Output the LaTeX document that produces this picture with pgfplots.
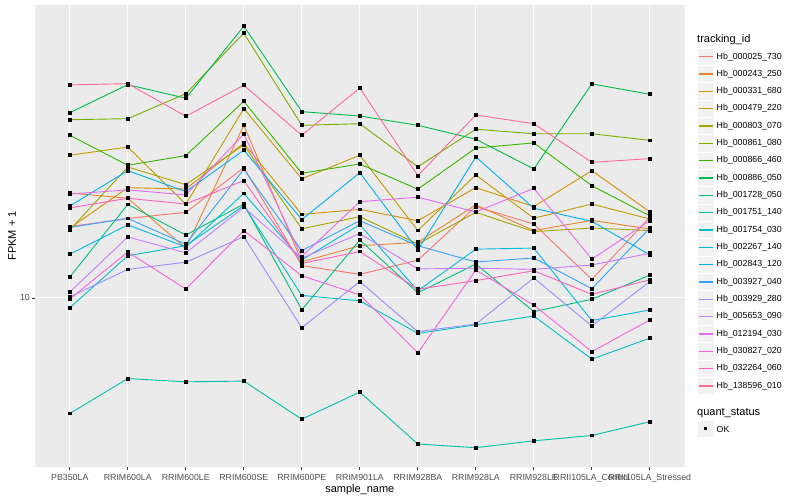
\documentclass[border=0pt]{standalone}
\usepackage{pgfplots}
\pgfplotsset{compat=1.18}
\usepackage{pgfplotstable}
\usepackage{fontspec}
\setmainfont{Liberation Sans}

% ggplot hue palette, 20 levels
\definecolor{c1}{HTML}{F8766D}
\definecolor{c2}{HTML}{EA8331}
\definecolor{c3}{HTML}{D89000}
\definecolor{c4}{HTML}{C09B00}
\definecolor{c5}{HTML}{A3A500}
\definecolor{c6}{HTML}{7CAE00}
\definecolor{c7}{HTML}{39B600}
\definecolor{c8}{HTML}{00BB4E}
\definecolor{c9}{HTML}{00BF7D}
\definecolor{c10}{HTML}{00C1A3}
\definecolor{c11}{HTML}{00BFC4}
\definecolor{c12}{HTML}{00BAE0}
\definecolor{c13}{HTML}{00B0F6}
\definecolor{c14}{HTML}{35A2FF}
\definecolor{c15}{HTML}{9590FF}
\definecolor{c16}{HTML}{C77CFF}
\definecolor{c17}{HTML}{E76BF3}
\definecolor{c18}{HTML}{FA62DB}
\definecolor{c19}{HTML}{FF62BC}
\definecolor{c20}{HTML}{FF6C91}
\definecolor{panel}{HTML}{EBEBEB}
\definecolor{keybg}{HTML}{F2F2F2}
\definecolor{grey30}{HTML}{4D4D4D}
\definecolor{grey20}{HTML}{333333}

\pgfplotscreateplotcyclelist{gg}{
{color=c1,mark=none},{color=c2,mark=none},{color=c3,mark=none},{color=c4,mark=none},
{color=c5,mark=none},{color=c6,mark=none},{color=c7,mark=none},{color=c8,mark=none},
{color=c9,mark=none},{color=c10,mark=none},{color=c11,mark=none},{color=c12,mark=none},
{color=c13,mark=none},{color=c14,mark=none},{color=c15,mark=none},{color=c16,mark=none},
{color=c17,mark=none},{color=c18,mark=none},{color=c19,mark=none},{color=c20,mark=none}}

% FPKM + 1, one column per tracking_id, one row per sample
\pgfplotstableread{
x  c1    c2    c3    c4    c5    c6    c7    c8    c9    c10  c11   c12   c13   c14   c15   c16   c17   c18   c19   c20
0  13.15 14.96 13.07 17.29 12.98 19.82 18.67 20.36 10.84 6.42 9.63  11.83 14.23 13.11 10.04 10.23 14.90 9.96  14.13 22.65
1  13.57 14.66 15.27 17.85 16.53 19.90 16.64 22.67 14.32 7.34 11.76 13.24 16.30 13.57 11.16 12.64 15.14 11.93 14.66 22.76
2  13.89 12.10 15.19 14.33 15.45 21.90 17.27 21.52 12.73 7.25 12.22 12.16 15.04 12.29 11.47 11.89 14.85 10.35 14.34 20.08
3  16.49 19.40 18.11 20.68 17.99 27.62 21.27 28.37 14.34 7.27 14.25 14.94 17.63 16.39 12.65 14.16 18.76 12.95 15.69 22.62
4  11.32 11.49 13.78 15.80 13.04 19.40 16.14 20.44 9.56  6.28 10.10 11.57 13.51 11.99 8.92  11.65 11.72 10.89 11.42 18.67
5  10.95 12.22 14.05 17.29 13.66 19.52 16.72 20.10 12.49 6.97 9.89  13.25 16.17 13.45 10.65 12.80 14.47 10.12 11.95 22.39
6  11.56 12.38 13.45 12.96 12.30 16.55 15.18 19.40 10.20 5.71 8.73  10.28 12.02 12.22 8.79  11.18 14.72 8.10  10.34 15.99
7  14.20 14.29 15.27 16.03 13.89 19.11 17.78 18.39 11.39 5.63 9.02  12.06 17.18 11.48 9.05  11.21 13.91 11.13 10.69 20.18
8  13.28 12.95 14.20 13.58 12.90 18.78 18.13 16.41 9.49  5.78 9.33  12.11 14.11 11.66 10.80 11.16 15.23 9.73  11.10 19.52
9  10.74 13.47 16.30 14.34 13.08 18.78 15.39 22.74 9.95  5.90 7.91  9.17  13.42 10.36 8.98  11.35 11.61 8.14  10.14 16.83
10 13.63 13.03 13.92 13.54 12.95 18.31 13.70 21.85 10.92 6.22 8.57  9.55  11.80 13.08 10.65 11.87 13.45 9.19  10.72 17.07
}\fpkm

\begin{document}
\begin{tikzpicture}
\begin{axis}[
    at={(35pt,33pt)}, anchor=south west,
    scale only axis, width=649.6pt, height=462pt,
    xmin=-0.6, xmax=10.6,
    ymode=log, ymin=5.228, ymax=30.78,
    xtick={0,...,10},
    xticklabels={PB350LA,RRIM600LA,RRIM600LE,RRIM600SE,RRIM600PE,RRIM901LA,RRIM928BA,RRIM928LA,RRIM928LE,RRII105LA\_Control,RRII105LA\_Stressed},
    ytick={10}, yticklabels={10},
    yminorticks=false, xminorticks=false,
    /pgf/number format/assume math mode=true,
    axis background/.style={fill=panel},
    axis line style={draw=none},
    grid=major,
    major grid style={white, line width=1pt},
    tick align=outside, tick pos=left,
    major tick length=2.75pt,
    every tick/.style={grey20, line width=0.8pt},
    xticklabel style={font=\fontsize{8.8}{10}\selectfont, text=grey30, inner sep=0pt, anchor=north, yshift=-4pt},
    yticklabel style={font=\fontsize{8.8}{10}\selectfont, text=grey30, inner sep=0pt, anchor=east, xshift=-2.2pt},
    xlabel={sample\_name},
    ylabel={FPKM + 1},
    xlabel style={font=\fontsize{11}{13}\selectfont, at={(axis description cs:0.5,-0.0495)}, anchor=center},
    ylabel style={font=\fontsize{11}{13}\selectfont, at={(axis description cs:-0.0354,0.5)}, anchor=center},
    cycle list name=gg,
    every axis plot/.append style={line width=0.9pt},
]
\pgfplotsinvokeforeach{1,...,20}{
    \addplot table[x=x, y=c#1] {\fpkm};
}
\pgfplotsinvokeforeach{1,...,20}{
    \addplot[only marks, mark=square*, mark size=1.4pt, black] table[x=x, y=c#1] {\fpkm};
}
\end{axis}

% legend, drawn in page points (1pt = 1px of the reference)
\node[anchor=west, inner sep=0pt, font=\fontsize{11}{13}\selectfont] at (697pt,460pt) {tracking\_id};
\foreach \name [count=\i] in {Hb\_000025\_730,Hb\_000243\_250,Hb\_000331\_680,Hb\_000479\_220,Hb\_000803\_070,Hb\_000861\_080,Hb\_000866\_460,Hb\_000886\_050,Hb\_001728\_050,Hb\_001751\_140,Hb\_001754\_030,Hb\_002267\_140,Hb\_002843\_120,Hb\_003927\_040,Hb\_003929\_280,Hb\_005653\_090,Hb\_012194\_030,Hb\_030827\_020,Hb\_032264\_060,Hb\_138596\_010}{
    \pgfmathsetmacro\yy{443.3-17.33*(\i-1)}
    \fill[keybg, draw=white, line width=0.6pt] (697pt,\yy pt-8.66pt) rectangle (714.3pt,\yy pt+8.66pt);
    \draw[c\i, line width=1.1pt] (698.7pt,\yy pt) -- (712.6pt,\yy pt);
    \node[anchor=west, inner sep=0pt, font=\fontsize{8.8}{10}\selectfont] at (716.5pt,\yy pt) {\name};
}
\node[anchor=west, inner sep=0pt, font=\fontsize{11}{13}\selectfont] at (697pt,87pt) {quant\_status};
\fill[keybg, draw=white, line width=0.6pt] (697pt,62.3pt) rectangle (714.3pt,79.7pt);
\fill[black] (704.2pt,69.5pt) rectangle (707.2pt,72.5pt);
\node[anchor=west, inner sep=0pt, font=\fontsize{8.8}{10}\selectfont] at (716.5pt,71pt) {OK};

\pgfresetboundingbox
\path[use as bounding box] (0pt,0pt) rectangle (800pt,500pt);
\end{tikzpicture}
\end{document}
